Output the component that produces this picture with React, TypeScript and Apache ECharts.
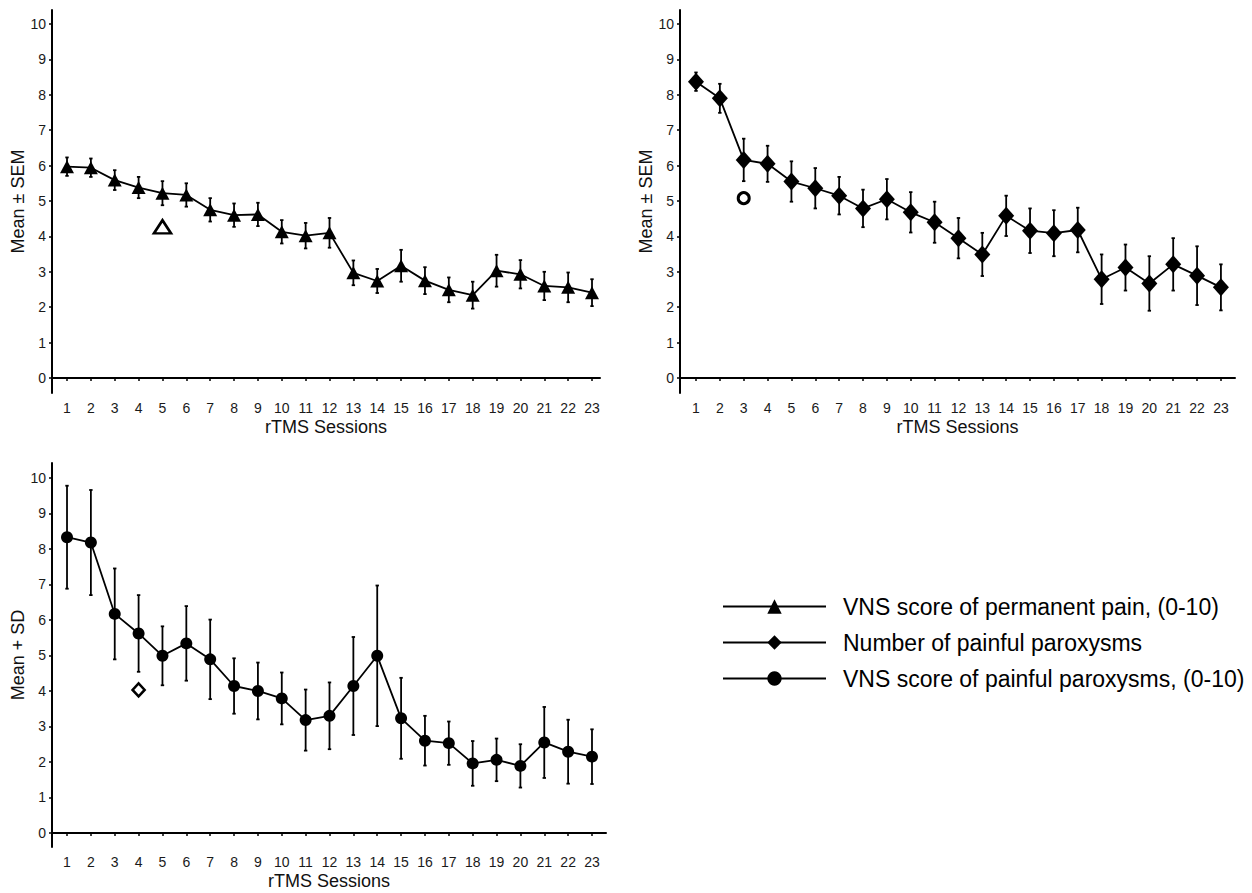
import React, { useEffect, useRef } from "react";
import * as echarts from "echarts";

const sessions = [1, 2, 3, 4, 5, 6, 7, 8, 9, 10, 11, 12, 13, 14, 15, 16, 17, 18, 19, 20, 21, 22, 23];
const yTicks = [0, 1, 2, 3, 4, 5, 6, 7, 8, 9, 10];

const seriesNames = [
  "VNS score of permanent pain, (0-10)",
  "Number of painful paroxysms",
  "VNS score of painful paroxysms, (0-10)",
];

const painMean = [5.97, 5.94, 5.59, 5.38, 5.22, 5.17, 4.75, 4.6, 4.62, 4.13, 4.02, 4.1, 2.97, 2.74, 3.17, 2.75, 2.49, 2.34, 3.03, 2.93, 2.6, 2.56, 2.41];
const painSem = [0.26, 0.26, 0.28, 0.3, 0.34, 0.33, 0.33, 0.33, 0.33, 0.33, 0.36, 0.42, 0.35, 0.34, 0.45, 0.38, 0.35, 0.38, 0.45, 0.4, 0.4, 0.42, 0.38];

const parMean = [8.37, 7.9, 6.16, 6.05, 5.55, 5.36, 5.15, 4.79, 5.05, 4.68, 4.4, 3.95, 3.49, 4.58, 4.16, 4.09, 4.18, 2.79, 3.12, 2.67, 3.21, 2.89, 2.56];
const parSem = [0.26, 0.41, 0.6, 0.51, 0.57, 0.57, 0.53, 0.53, 0.57, 0.57, 0.58, 0.57, 0.61, 0.57, 0.63, 0.65, 0.63, 0.7, 0.65, 0.77, 0.74, 0.83, 0.65];

const vnsParMean = [8.33, 8.18, 6.17, 5.62, 4.99, 5.34, 4.89, 4.14, 4.0, 3.79, 3.18, 3.3, 4.14, 4.99, 3.23, 2.6, 2.53, 1.96, 2.06, 1.89, 2.55, 2.29, 2.15];
const vnsParSd = [1.45, 1.48, 1.28, 1.08, 0.83, 1.05, 1.12, 0.78, 0.8, 0.73, 0.86, 0.94, 1.38, 1.98, 1.14, 0.7, 0.61, 0.63, 0.6, 0.61, 1.0, 0.9, 0.77];

// significance markers [session, value]
const painSig = [[5, 4.27]];
const parSig = [[3, 5.08]];
const vnsSig = [[4, 4.03]];

const FONT = "'Liberation Sans', Arial, sans-serif";

function errData(mean: number[], err: number[]) {
  return sessions.map((s, i) => [s, mean[i] - err[i], mean[i] + err[i]]);
}
function lineData(mean: number[]) {
  return sessions.map((s, i) => [s, mean[i]]);
}

const errorRender = (params: any, api: any) => {
  const x = api.value(0);
  const lo = api.coord([x, api.value(1)]);
  const hi = api.coord([x, api.value(2)]);
  const cap = 1.7;
  const st = { stroke: "#000", lineWidth: 1.8 };
  return {
    type: "group",
    children: [
      { type: "line", shape: { x1: lo[0], y1: lo[1], x2: hi[0], y2: hi[1] }, style: st },
      { type: "line", shape: { x1: lo[0] - cap, y1: lo[1], x2: lo[0] + cap, y2: lo[1] }, style: st },
      { type: "line", shape: { x1: hi[0] - cap, y1: hi[1], x2: hi[0] + cap, y2: hi[1] }, style: st },
    ],
  };
};

const tickRich = { t: { fontSize: 14, color: "#1a1a1a", fontFamily: FONT } };
const tickFmt = (v: number) => "{t|" + Math.round(v) + "}";

function xAxis(idx: number, min: number, max: number) {
  return {
    type: "value",
    gridIndex: idx,
    min,
    max,
    name: "rTMS Sessions",
    nameLocation: "middle",
    nameGap: 25,
    nameTextStyle: { fontSize: 18, color: "#111", fontFamily: FONT },
    axisLine: { show: true, lineStyle: { color: "#000", width: 2 } },
    axisTick: { show: true, length: 3, lineStyle: { color: "#000", width: 1.5 }, customValues: sessions },
    axisLabel: {
      fontSize: 14, color: "#1a1a1a", fontFamily: FONT, margin: 8,
      customValues: sessions, formatter: tickFmt, rich: tickRich,
    },
    splitLine: { show: false },
  };
}

function yAxis(idx: number, name: string, min: number, max: number) {
  return {
    type: "value",
    gridIndex: idx,
    min,
    max,
    name,
    nameLocation: "middle",
    nameGap: 17,
    nameTextStyle: { fontSize: 18, color: "#111", fontFamily: FONT },
    axisLine: { show: true, lineStyle: { color: "#000", width: 2 } },
    axisTick: { show: true, length: 3, lineStyle: { color: "#000", width: 1.5 }, customValues: yTicks },
    axisLabel: {
      fontSize: 14, color: "#1a1a1a", fontFamily: FONT, margin: 6,
      customValues: yTicks, formatter: tickFmt, rich: tickRich,
    },
    splitLine: { show: false },
  };
}

export default function App() {
  const ref = useRef<HTMLDivElement>(null);
  useEffect(() => {
    if (!ref.current) return;
    const chart = echarts.init(ref.current, null, { renderer: "svg" });
    const lineCommon = {
      type: "line",
      color: "#000",
      lineStyle: { color: "#000", width: 1.8 },
      itemStyle: { color: "#000" },
      z: 3,
    };
    const openStyle = { color: "#fff", borderColor: "#000", opacity: 1 };
    chart.setOption({
      animation: false,
      backgroundColor: "#fff",
      textStyle: { fontFamily: FONT },
      grid: [
        { left: 52, top: 10, width: 548, height: 383 },
        { left: 680, top: 10, width: 555, height: 383 },
        { left: 52, top: 463, width: 554, height: 384 },
      ],
      xAxis: [xAxis(0, 0.371, 23.335), xAxis(1, 0.33, 23.59), xAxis(2, 0.371, 23.587)],
      yAxis: [
        yAxis(0, "Mean ± SEM", -0.424, 10.395),
        yAxis(1, "Mean ± SEM", -0.424, 10.395),
        yAxis(2, "Mean + SD", -0.394, 10.42),
      ],
      legend: {
        data: seriesNames,
        orient: "vertical",
        left: 717,
        top: 590,
        itemWidth: 103,
        itemHeight: 18,
        itemGap: 13,
        selectedMode: false,
        textStyle: { fontSize: 23, color: "#000", fontFamily: FONT, padding: [0, 0, 0, 12] },
      },
      series: [
        { type: "custom", xAxisIndex: 0, yAxisIndex: 0, renderItem: errorRender, data: errData(painMean, painSem), encode: { x: 0, y: [1, 2] }, z: 2 },
        { type: "custom", xAxisIndex: 1, yAxisIndex: 1, renderItem: errorRender, data: errData(parMean, parSem), encode: { x: 0, y: [1, 2] }, z: 2 },
        { type: "custom", xAxisIndex: 2, yAxisIndex: 2, renderItem: errorRender, data: errData(vnsParMean, vnsParSd), encode: { x: 0, y: [1, 2] }, z: 2 },
        { ...lineCommon, name: seriesNames[0], xAxisIndex: 0, yAxisIndex: 0, symbol: "triangle", symbolSize: [14, 13], data: lineData(painMean) },
        { ...lineCommon, name: seriesNames[1], xAxisIndex: 1, yAxisIndex: 1, symbol: "diamond", symbolSize: [16, 18], data: lineData(parMean) },
        { ...lineCommon, name: seriesNames[2], xAxisIndex: 2, yAxisIndex: 2, symbol: "circle", symbolSize: 12, data: lineData(vnsParMean) },
        {
          type: "scatter", xAxisIndex: 0, yAxisIndex: 0, symbol: "triangle", symbolSize: [17, 13],
          itemStyle: { ...openStyle, borderWidth: 2.6 }, data: painSig, z: 4,
        },
        {
          type: "scatter", xAxisIndex: 1, yAxisIndex: 1, symbol: "circle", symbolSize: 11,
          itemStyle: { ...openStyle, borderWidth: 3 }, data: parSig, z: 4,
        },
        {
          type: "scatter", xAxisIndex: 2, yAxisIndex: 2, symbol: "diamond", symbolSize: [12, 13],
          itemStyle: { ...openStyle, borderWidth: 2.6 }, data: vnsSig, z: 4,
        },
      ],
    });
    return () => chart.dispose();
  }, []);
  return (
    <div
      ref={ref}
      style={{ position: "fixed", left: 0, top: 0, width: 1252, height: 893, background: "#fff" }}
    />
  );
}
